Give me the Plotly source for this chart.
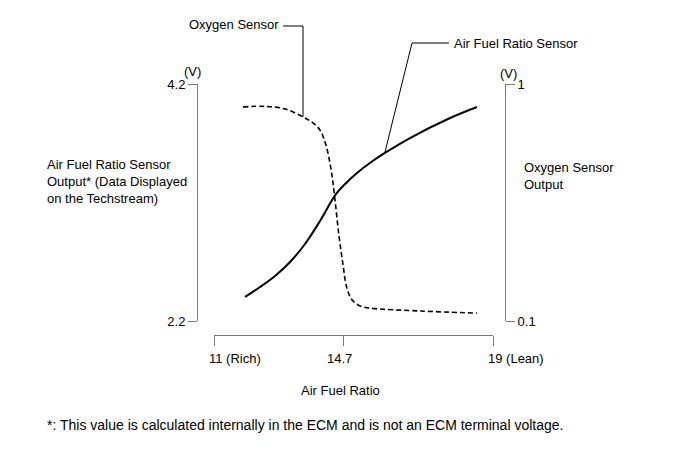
import plotly.graph_objects as go

W, H = 691, 465

# Air fuel ratio (x) and sensor outputs
afr_af = [11.89, 12.32, 12.75, 13.18, 13.61, 14.04, 14.50, 14.79, 15.10, 15.47, 15.90, 16.62,
          17.77, 18.54]
af_volts = [2.403, 2.487, 2.580, 2.698, 2.850, 3.044, 3.272, 3.365, 3.449, 3.533, 3.618, 3.744,
            3.913, 4.006]

afr_o2 = [11.83, 12.46, 13.04, 13.55, 13.84, 14.04, 14.21, 14.36, 14.47, 14.58, 14.70, 14.81,
          14.96, 15.19, 15.47, 16.91, 18.54]
o2_volts = [0.913, 0.915, 0.905, 0.875, 0.852, 0.825, 0.768, 0.673, 0.560, 0.427, 0.313, 0.225,
            0.180, 0.157, 0.149, 0.138, 0.130]

x_ticks = [11, 14.7, 19]
x_tick_text = ["11 (Rich)", "14.7", "19 (Lean)"]
left_ticks = [2.2, 4.2]
right_ticks = [0.1, 1]

FONT = {"family": "Liberation Sans, Arial, sans-serif", "size": 13, "color": "#000000"}
AXIS_GREY = "#7a7a7a"


def px(x):
    return x / W


def py(y):
    return (H - y) / H


fig = go.Figure()
fig.add_trace(go.Scatter(x=afr_af, y=af_volts, mode="lines", yaxis="y",
                         line={"color": "#000000", "width": 2, "shape": "spline"},
                         cliponaxis=False, showlegend=False))
fig.add_trace(go.Scatter(x=afr_o2, y=o2_volts, mode="lines", yaxis="y2",
                         line={"color": "#000000", "width": 1.6, "dash": "5px,3px", "shape": "spline"},
                         cliponaxis=False, showlegend=False))

axis_common = {"showgrid": False, "zeroline": False, "showline": True, "linecolor": AXIS_GREY,
               "linewidth": 1, "ticks": "outside", "tickcolor": AXIS_GREY, "tickwidth": 1,
               "tickfont": FONT}

annotations = [
    {"text": "(V)", "x": px(192), "y": py(72)},
    {"text": "(V)", "x": px(508), "y": py(73)},
    {"text": "Air Fuel Ratio Sensor<br>Output* (Data Displayed<br>on the Techstream)",
     "x": px(45), "y": py(181), "xanchor": "left", "align": "left"},
    {"text": "Oxygen Sensor<br>Output", "x": px(522), "y": py(176), "xanchor": "left", "align": "left"},
    {"text": "Air Fuel Ratio", "x": px(340), "y": py(390)},
    {"text": "*: This value is calculated internally in the ECM and is not an ECM terminal voltage.",
     "x": px(45), "y": py(425), "xanchor": "left", "font": dict(FONT, size=14)},
    {"text": "Oxygen Sensor", "x": px(281), "y": py(25), "xanchor": "right"},
    {"text": "Air Fuel Ratio Sensor", "x": px(452), "y": py(43), "xanchor": "left"},
]
for a in annotations:
    a.setdefault("xanchor", "center")
    a.setdefault("font", FONT)
    a.update({"xref": "paper", "yref": "paper", "yanchor": "middle", "showarrow": False})

# x tick labels: the number sits on the tick, the (Rich)/(Lean) note trails to the right
for val, text in zip(x_ticks, x_tick_text):
    anchor, shift = ("center", -4) if text == "14.7" else ("left", -7)
    annotations.append({"text": text, "x": val, "xref": "x", "y": py(358), "yref": "paper",
                        "xanchor": anchor, "xshift": shift, "yanchor": "middle",
                        "showarrow": False, "font": FONT})

leader = {"type": "path", "xref": "paper", "yref": "paper", "line": {"color": "#000000", "width": 1}}
shapes = [
    dict(leader, path=f"M {px(283)},{py(26)} L {px(303)},{py(26)} L {px(303)},{py(117)}"),
    dict(leader, path=f"M {px(449)},{py(43)} L {px(412)},{py(43)} L {px(385)},{py(152)}"),
]

fig.update_layout(
    width=W, height=H,
    template="none",
    paper_bgcolor="#ffffff", plot_bgcolor="rgba(0,0,0,0)",
    margin={"l": 0, "r": 0, "t": 0, "b": 0, "autoexpand": False},
    font=FONT,
    xaxis=dict(axis_common, domain=[px(214), px(493)], range=[11, 19], anchor="free",
               position=py(335), tickvals=x_ticks, showticklabels=False, ticklen=10),
    yaxis=dict(axis_common, domain=[py(321), py(84)], range=[2.2, 4.2], anchor="free",
               position=px(197), side="left", tickvals=left_ticks, ticktext=["2.2", "4.2"], ticklen=9),
    yaxis2=dict(axis_common, domain=[py(321), py(84)], range=[0.1, 1], anchor="free",
                position=px(505), side="right", overlaying="y", tickvals=right_ticks,
                ticktext=["0.1", "1"], ticklen=9),
    annotations=annotations,
    shapes=shapes,
)

fig.write_html("out.html", config={"displayModeBar": False},
               post_script="document.body.style.margin = '0';")
